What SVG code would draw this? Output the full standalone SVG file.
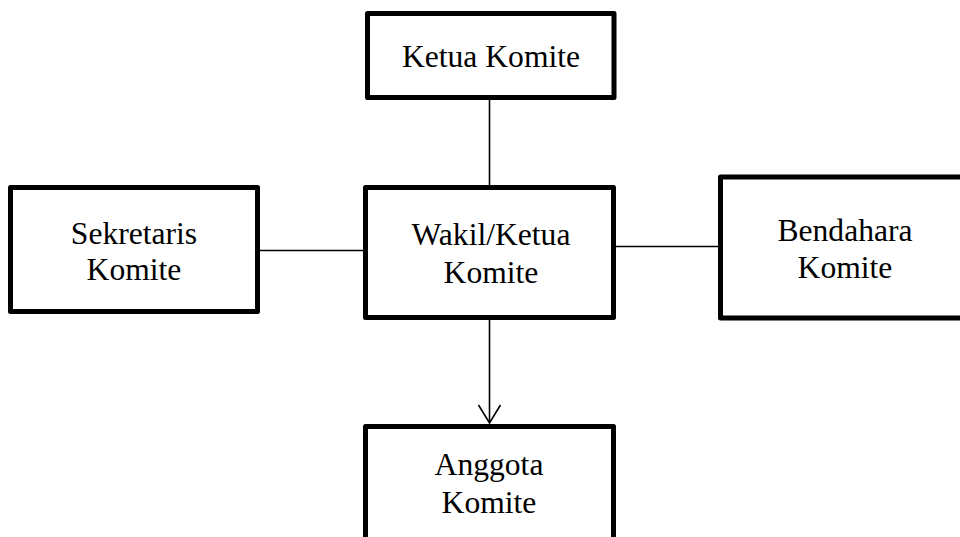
<svg xmlns="http://www.w3.org/2000/svg" width="960" height="537" viewBox="0 0 960 537">
<style>
.box{fill:#fff;stroke:#000;stroke-width:5;stroke-linejoin:round}
text{font-family:'Liberation Serif','Times New Roman',serif;font-size:31.6px;fill:#000;text-anchor:middle}
.con{stroke:#000;stroke-width:1.6;fill:none}
</style>
<rect width="960" height="537" fill="#fff"/>
<g id="connectors">
<line class="con" x1="489.5" y1="100" x2="489.5" y2="185"/>
<line class="con" x1="260" y1="250.5" x2="363" y2="250.5"/>
<line class="con" x1="616" y1="246.5" x2="718" y2="246.5"/>
<line class="con" x1="489.5" y1="320" x2="489.5" y2="423"/>
<polyline class="con" points="478.5,405 489.5,423 500.5,405"/>
</g>
<g id="ketua">
<rect class="box" x="367.5" y="13.5" width="246.5" height="84"/>
<text x="491" y="67">Ketua Komite</text>
</g>
<g id="wakil">
<rect class="box" x="365.5" y="187.5" width="248" height="130"/>
<text x="491" y="245">Wakil/Ketua</text>
<text x="491" y="283">Komite</text>
</g>
<g id="sekretaris">
<rect class="box" x="10.5" y="187.5" width="247" height="124"/>
<text x="134" y="244">Sekretaris</text>
<text x="134" y="280">Komite</text>
</g>
<g id="bendahara">
<rect class="box" x="720.5" y="177" width="260" height="141"/>
<text x="845" y="241">Bendahara</text>
<text x="845" y="278">Komite</text>
</g>
<g id="anggota">
<rect class="box" x="365.5" y="426.5" width="248" height="130"/>
<text x="489" y="475">Anggota</text>
<text x="489" y="513">Komite</text>
</g>
</svg>
